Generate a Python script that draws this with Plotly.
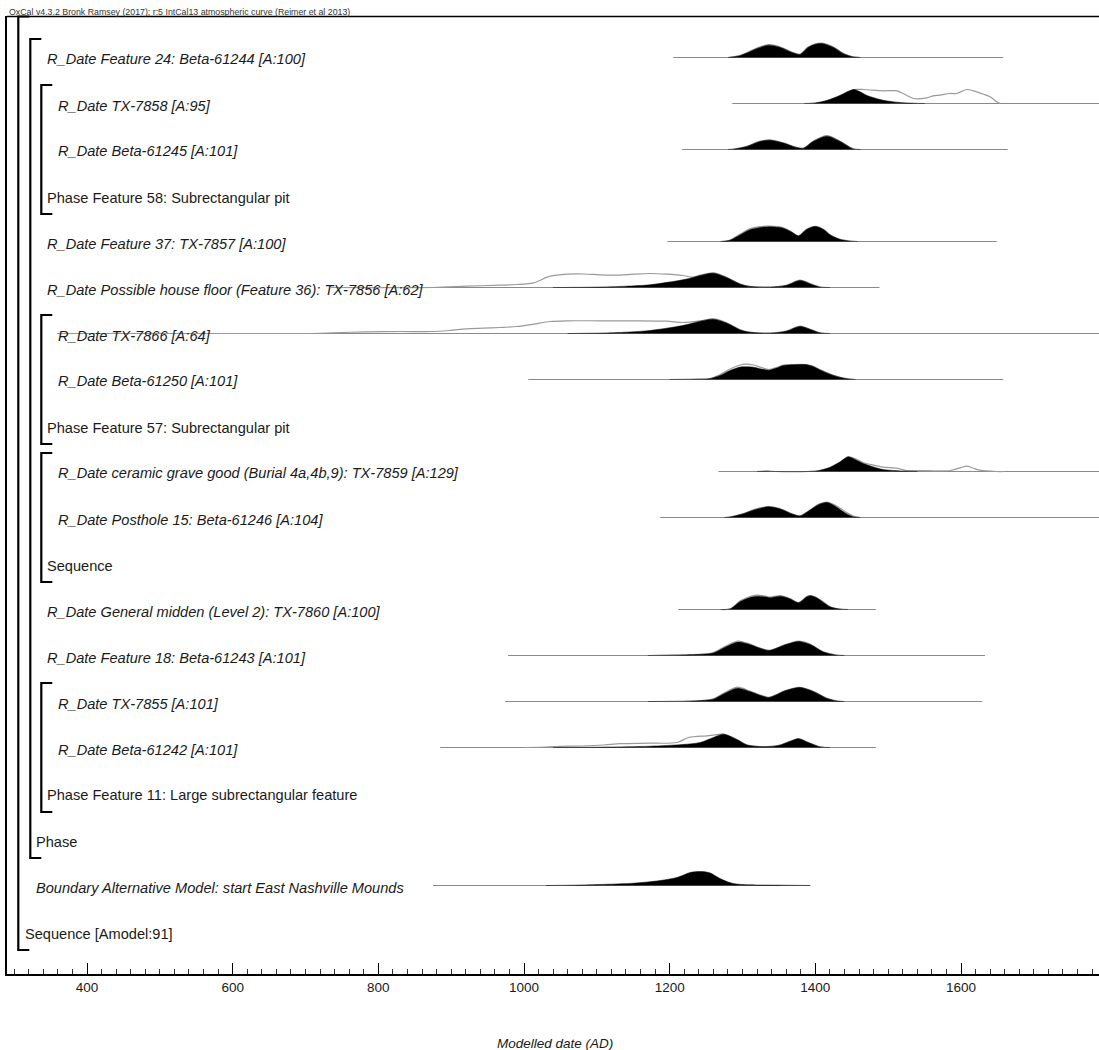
import plotly.graph_objects as go

# ---------------- data ----------------
row_labels = [
    "R_Date Feature 24: Beta-61244 [A:100]",
    "R_Date TX-7858 [A:95]",
    "R_Date Beta-61245 [A:101]",
    "Phase Feature 58: Subrectangular pit",
    "R_Date Feature 37: TX-7857 [A:100]",
    "R_Date Possible house floor (Feature 36): TX-7856 [A:62]",
    "R_Date TX-7866 [A:64]",
    "R_Date Beta-61250 [A:101]",
    "Phase Feature 57: Subrectangular pit",
    "R_Date ceramic grave good (Burial 4a,4b,9): TX-7859 [A:129]",
    "R_Date Posthole 15: Beta-61246 [A:104]",
    "Sequence",
    "R_Date General midden (Level 2): TX-7860 [A:100]",
    "R_Date Feature 18: Beta-61243 [A:101]",
    "R_Date TX-7855 [A:101]",
    "R_Date Beta-61242 [A:101]",
    "Phase Feature 11: Large subrectangular feature",
    "Phase",
    "Boundary Alternative Model: start East Nashville Mounds",
    "Sequence [Amodel:91]",
]
row_depth = [3, 4, 4, 3, 3, 3, 4, 4, 3, 4, 4, 3, 3, 3, 4, 4, 3, 2, 2, 1]

# bracket groups: (depth, first row, last row) -- rows numbered from 1
groups = [(1, 0, 20), (2, 1, 18), (3, 2, 4), (3, 7, 9), (3, 10, 12), (3, 15, 17)]

x_tick_labels = [400, 600, 800, 1000, 1200, 1400, 1600]

# Row 1: Feature 24 Beta-61244
f24_range = [1205, 1658]
f24_x = [1280, 1295, 1306, 1320, 1336, 1352, 1368, 1379, 1390, 1400, 1409, 1425, 1438, 1452, 1462]
f24_post = [0, 1.5, 4.5, 9, 12.3, 10, 5, 3, 10, 13.2, 14, 10, 4, 0.5, 0]
f24_like = [0, 1.6, 4.8, 9.5, 12.8, 10.4, 5.3, 3.3, 10.4, 13.7, 14.4, 10.5, 4.3, 0.6, 0]

# Row 2: TX-7858
tx7858_range = [1286, 1840]
tx7858_px = [1385, 1400, 1416, 1434, 1445, 1453, 1462, 1471, 1493, 1516, 1535, 1550]
tx7858_post = [0, 0.5, 3, 8, 12, 14, 11.5, 8, 3.3, 1, 0.3, 0]
tx7858_lx = [1385, 1400, 1416, 1434, 1445, 1453, 1466, 1493, 1512, 1525, 1535, 1553, 1562,
             1571, 1585, 1594, 1608, 1617, 1631, 1640, 1649, 1654]
tx7858_like = [0, 0.5, 3, 8, 12, 14, 14, 12.7, 12.7, 8.3, 5, 5.7, 7.7,
               8.3, 10, 10, 14, 12.7, 9.3, 6.7, 1.7, 0]

# Row 3: Beta-61245
b61245_range = [1217, 1664]
b61245_x = [1280, 1288, 1306, 1322, 1337, 1356, 1374, 1384, 1397, 1416, 1434, 1452, 1462]
b61245_post = [0, 0.3, 3, 7.5, 9.3, 6.5, 2, 1.3, 8, 13.3, 8, 0.5, 0]
b61245_like = [0, 0.4, 3.2, 7.8, 9.7, 6.7, 2.1, 1.4, 8.3, 13.8, 8.3, 0.6, 0]

# Row 5: Feature 37 TX-7857
tx7857_range = [1197, 1649]
tx7857_x = [1270, 1282, 1297, 1310, 1324, 1338, 1356, 1366, 1377, 1388, 1400, 1411, 1420, 1434, 1448, 1458]
tx7857_post = [0, 1, 6.7, 11.7, 14, 14.7, 13.3, 10, 5.6, 12, 15, 12, 6.7, 2, 0.3, 0]
tx7857_like = [0, 1.2, 7.5, 12.6, 14.8, 15.3, 13.7, 10.2, 5.7, 12.2, 15.2, 12.2, 6.8, 2.1, 0.4, 0]

# Row 6: TX-7856
tx7856_range = [735, 1488]
tx7856_px = [1040, 1100, 1140, 1173, 1218, 1232, 1242, 1260, 1278, 1297, 1310, 1338, 1360, 1379, 1395, 1407, 1420]
tx7856_post = [0, 0.4, 1.3, 2.7, 7.7, 10, 12, 14.3, 10, 3.3, 1, 0.3, 2, 7, 3, 0.3, 0]
tx7856_lx = [735, 875, 921, 967, 990, 1013, 1036, 1059, 1082, 1104, 1127, 1150, 1173, 1196, 1218,
             1232, 1242, 1260, 1278, 1297, 1310, 1338, 1360, 1379, 1395, 1407, 1420]
tx7856_like = [0, 0, 1.3, 2.3, 3, 4.7, 11.3, 13.3, 13.5, 12.7, 12.3, 13.3, 14, 13.3, 12,
               10.3, 12.3, 14.6, 10.3, 3.5, 1.1, 0.4, 2.1, 7.3, 3.2, 0.4, 0]

# Row 7: TX-7866
tx7866_range = [359, 1840]
tx7866_px = [1060, 1110, 1145, 1173, 1218, 1242, 1260, 1278, 1297, 1310, 1338, 1360, 1379, 1395, 1407, 1420]
tx7866_post = [0, 0.5, 1.5, 3, 8, 12.3, 14.3, 10.5, 3.5, 1.2, 0.3, 2.2, 7, 3.5, 0.5, 0]
tx7866_lx = [359, 700, 738, 784, 830, 875, 898, 921, 944, 967, 990, 1013, 1036, 1059, 1104, 1150,
             1196, 1218, 1242, 1260, 1278, 1297, 1310, 1338, 1360, 1379, 1395, 1407, 1420]
tx7866_like = [0, 0, 0.7, 1.7, 2, 2, 3, 4.7, 5.3, 6, 7, 9.3, 12, 12.7, 12.7, 12.7,
               12.3, 11, 12.6, 14.6, 10.8, 3.7, 1.3, 0.4, 2.3, 7.3, 3.7, 0.6, 0]

# Row 8: Beta-61250
b61250_range = [1006, 1658]
b61250_x = [1200, 1240, 1255, 1269, 1283, 1297, 1304, 1315, 1326, 1336, 1347, 1356, 1370, 1388, 1397, 1407, 1425, 1443, 1455]
b61250_post = [0, 0.3, 0.8, 4, 9, 12.5, 12.7, 12.3, 10.5, 9.3, 11.5, 14, 14.7, 14.7, 13, 9.3, 4, 0.7, 0]
b61250_like = [0, 0.3, 1, 4.8, 10.5, 14.5, 15.3, 14.5, 12, 10, 12, 14.3, 15, 15, 13.3, 9.6, 4.2, 0.8, 0]

# Row 10: TX-7859
tx7859_range = [1267, 1840]
tx7859_px = [1320, 1333, 1345, 1390, 1402, 1420, 1434, 1445, 1456, 1466, 1480, 1493, 1520, 1540]
tx7859_post = [0, 0.3, 0, 0, 0.5, 4, 9.5, 14.7, 11.5, 8, 4.5, 2, 0.5, 0]
tx7859_lx = [1320, 1333, 1345, 1390, 1402, 1420, 1434, 1445, 1456, 1466, 1480, 1493, 1512, 1525,
             1540, 1585, 1599, 1608, 1617, 1626, 1649, 1660]
tx7859_like = [0, 0.3, 0, 0, 0.5, 4, 9.5, 14.7, 12.5, 8.7, 6.3, 4.3, 3.3, 1,
               1, 1, 3.7, 5.3, 3.3, 1.3, 0, 0]

# Row 11: Posthole 15 Beta-61246
b61246_range = [1187, 1840]
b61246_x = [1275, 1283, 1300, 1318, 1336, 1352, 1368, 1379, 1392, 1405, 1416, 1428, 1440, 1452, 1462]
b61246_post = [0, 0.5, 3.5, 8, 10.7, 8.5, 3.5, 1.5, 7, 13, 15, 11, 5, 0.7, 0]
b61246_like = [0, 0.5, 3.6, 8.3, 11, 8.7, 3.6, 1.6, 7.2, 13.4, 15.4, 12, 6.2, 1.5, 0]

# Row 13: General midden TX-7860
tx7860_range = [1212, 1483]
tx7860_x = [1270, 1283, 1297, 1310, 1320, 1331, 1338, 1352, 1365, 1377, 1388, 1393, 1400, 1407, 1420, 1434, 1445]
tx7860_post = [0, 0.5, 8, 12, 13.3, 12.7, 11.7, 13.3, 10.7, 6.7, 12.5, 13.7, 12.3, 9.3, 2.7, 0.3, 0]
tx7860_like = [0, 0.6, 8.7, 13, 14.3, 13.5, 12.3, 14, 11, 6.9, 12.7, 13.9, 12.5, 9.5, 2.8, 0.4, 0]

# Row 14: Feature 18 Beta-61243
b61243_range = [978, 1633]
b61243_x = [1170, 1219, 1245, 1260, 1278, 1294, 1310, 1323, 1336, 1346, 1356, 1367, 1377, 1393, 1411, 1429, 1440]
b61243_post = [0, 0.5, 1.2, 2.5, 9, 13.5, 11, 7.5, 5, 7, 10, 12.5, 14, 11, 3.5, 0.3, 0]
b61243_like = [0, 0.6, 1.4, 3, 9.8, 14.5, 11.5, 7.7, 5.1, 7.1, 10.2, 12.7, 14.3, 11.2, 3.6, 0.4, 0]

# Row 15: TX-7855
tx7855_range = [974, 1629]
tx7855_x = [1170, 1228, 1250, 1260, 1278, 1293, 1310, 1323, 1336, 1346, 1356, 1367, 1379, 1397, 1416, 1430, 1440]
tx7855_post = [0, 0.3, 1.2, 2.2, 9, 13.3, 10, 6.5, 4, 6.5, 10, 12.5, 14, 10, 3, 0.4, 0]
tx7855_like = [0, 0.4, 1.4, 2.6, 9.8, 14.3, 10.5, 6.8, 4.1, 6.6, 10.2, 12.7, 14.2, 10.2, 3.1, 0.5, 0]

# Row 16: Beta-61242
b61242_range = [885, 1483]
b61242_px = [1040, 1110, 1173, 1218, 1242, 1260, 1274, 1292, 1306, 1320, 1333, 1350, 1365, 1377, 1390, 1407, 1420]
b61242_post = [0, 0.4, 1.3, 3, 5, 10, 13.3, 8, 2.5, 1, 0.7, 2, 6, 8.7, 5, 0.5, 0]
b61242_lx = [1000, 1030, 1049, 1080, 1110, 1132, 1173, 1210, 1226, 1251, 1265, 1274, 1292, 1306,
             1320, 1333, 1350, 1365, 1377, 1390, 1407, 1420]
b61242_like = [0, 0.5, 1.2, 1.5, 2.5, 3.8, 4.3, 5, 10, 11.7, 12.8, 13.5, 8.2, 2.6,
               1.1, 0.8, 2.1, 6.1, 8.9, 5.1, 0.6, 0]

# Row 19: Boundary start East Nashville Mounds
bnd_range = [875, 1393]
bnd_x = [1030, 1065, 1104, 1150, 1182, 1210, 1228, 1242, 1255, 1269, 1287, 1310, 1356, 1393]
bnd_post = [0, 0.3, 1, 2.3, 4.5, 8, 13, 14, 12.7, 7, 2, 0.7, 0.3, 0]

# row -> (range, posterior x, posterior, likelihood x, likelihood)
dists = {
    1: (f24_range, f24_x, f24_post, f24_x, f24_like),
    2: (tx7858_range, tx7858_px, tx7858_post, tx7858_lx, tx7858_like),
    3: (b61245_range, b61245_x, b61245_post, b61245_x, b61245_like),
    5: (tx7857_range, tx7857_x, tx7857_post, tx7857_x, tx7857_like),
    6: (tx7856_range, tx7856_px, tx7856_post, tx7856_lx, tx7856_like),
    7: (tx7866_range, tx7866_px, tx7866_post, tx7866_lx, tx7866_like),
    8: (b61250_range, b61250_x, b61250_post, b61250_x, b61250_like),
    10: (tx7859_range, tx7859_px, tx7859_post, tx7859_lx, tx7859_like),
    11: (b61246_range, b61246_x, b61246_post, b61246_x, b61246_like),
    13: (tx7860_range, tx7860_x, tx7860_post, tx7860_x, tx7860_like),
    14: (b61243_range, b61243_x, b61243_post, b61243_x, b61243_like),
    15: (tx7855_range, tx7855_x, tx7855_post, tx7855_x, tx7855_like),
    16: (b61242_range, b61242_px, b61242_post, b61242_lx, b61242_like),
    19: (bnd_range, bnd_x, bnd_post, None, None),
}

# ---------------- layout geometry ----------------
W, H = 1099, 1050
ML, MR, MT, MB = 7, 0, 16, 76
PW, PH = W - ML - MR, H - MT - MB
PX_PER_YEAR = (524 - 87) / 600.0
X_RANGE = [400 - (87 - ML) / PX_PER_YEAR, 400 + (W - MR - 87) / PX_PER_YEAR]
ROW0, ROW_STEP = 59.5, 46.0          # pixel centre of row 1, spacing
Y_RANGE = [1 + (MT + PH - ROW0) / ROW_STEP, 1 + (MT - ROW0) / ROW_STEP]
BASE_OFF = 2.0 / ROW_STEP            # baseline sits 2px above label centre
H_SCALE = 1.0 / ROW_STEP             # height units are px

FONT = "Liberation Sans, Arial, Helvetica, sans-serif"
TXT = "#1a1a1a"
depth_x = {1: 23, 2: 33.5, 3: 44.5, 4: 55.5}
bracket_x = {1: 18.3, 2: 30.3, 3: 41.3}


def px_x(px):
    return (px - ML) / PW


def px_y(px):
    return (MT + PH - px) / PH


def row_px(i):
    return ROW0 + (i - 1) * ROW_STEP


fig = go.Figure()

for row, (rng, px_, post, lx, like) in dists.items():
    base = row - BASE_OFF
    fig.add_trace(go.Scatter(x=rng, y=[base, base], mode="lines",
                             line=dict(color="#8a8a8a", width=1), hoverinfo="skip"))
    if lx is not None:
        fig.add_trace(go.Scatter(x=lx, y=[base - h * H_SCALE for h in like], mode="lines",
                                 line=dict(color="#9a9a9a", width=1.2, shape="spline", smoothing=0.8),
                                 hoverinfo="skip"))
    fig.add_trace(go.Scatter(x=px_, y=[base - h * H_SCALE for h in post], mode="lines",
                             fill="toself", fillcolor="black",
                             line=dict(color="black", width=0.5, shape="spline", smoothing=0.8),
                             hoverinfo="skip"))

shapes = []
# top frame line
shapes.append(dict(type="line", xref="paper", yref="paper", x0=0, x1=1, y0=px_y(16.5), y1=px_y(16.5),
                   line=dict(color="black", width=1.6)))
# brackets
for depth, r0, r1 in groups:
    bx = bracket_x[depth]
    tick = bx + 11
    top = 16.5 if r0 == 0 else row_px(r0) - 20.5
    bot = row_px(r1) + 16.5
    path = "M {a},{t} L {b},{t} L {b},{bb} L {a},{bb}".format(
        a=px_x(tick), b=px_x(bx), t=px_y(top), bb=px_y(bot))
    shapes.append(dict(type="path", xref="paper", yref="paper", path=path,
                       line=dict(color="black", width=2.2)))

annotations = []
for i, (lab, d) in enumerate(zip(row_labels, row_depth), start=1):
    ital = lab.startswith("R_Date") or lab.startswith("Boundary")
    annotations.append(dict(
        xref="paper", yref="paper", x=px_x(depth_x[d]), y=px_y(row_px(i)),
        xanchor="left", yanchor="middle", showarrow=False,
        text=("<i>%s</i>" % lab) if ital else lab,
        font=dict(family=FONT, size=14.6, color=TXT)))

annotations.append(dict(
    xref="paper", yref="paper", x=px_x(6.5), y=px_y(11.8), xanchor="left", yanchor="middle",
    showarrow=False, text="OxCal v4.3.2 Bronk Ramsey (2017); r:5 IntCal13 atmospheric curve (Reimer et al 2013)",
    font=dict(family=FONT, size=8.8, color="#333333")))
annotations.append(dict(
    xref="paper", yref="paper", x=px_x(555), y=px_y(1043), xanchor="center", yanchor="middle",
    showarrow=False, text="<i>Modelled date (AD)</i>",
    font=dict(family=FONT, size=13.5, color=TXT)))

fig.update_layout(
    width=W, height=H, margin=dict(l=ML, r=MR, t=MT, b=MB),
    paper_bgcolor="white", plot_bgcolor="white", showlegend=False,
    shapes=shapes, annotations=annotations,
    xaxis=dict(range=X_RANGE, showgrid=False, zeroline=False, showline=True,
               linecolor="black", linewidth=2, ticks="inside", ticklen=11, tickwidth=1.4,
               tickcolor="black", tickvals=x_tick_labels, ticktext=[str(v) for v in x_tick_labels],
               tickfont=dict(family=FONT, size=13.5, color=TXT),
               minor=dict(ticks="inside", ticklen=5, tickwidth=1, tickcolor="#333",
                          dtick=20, tick0=0, showgrid=False)),
    yaxis=dict(range=Y_RANGE, showgrid=False, zeroline=False, showline=True,
               linecolor="black", linewidth=2, ticks="", showticklabels=False),
)

fig.write_html("out.html")
